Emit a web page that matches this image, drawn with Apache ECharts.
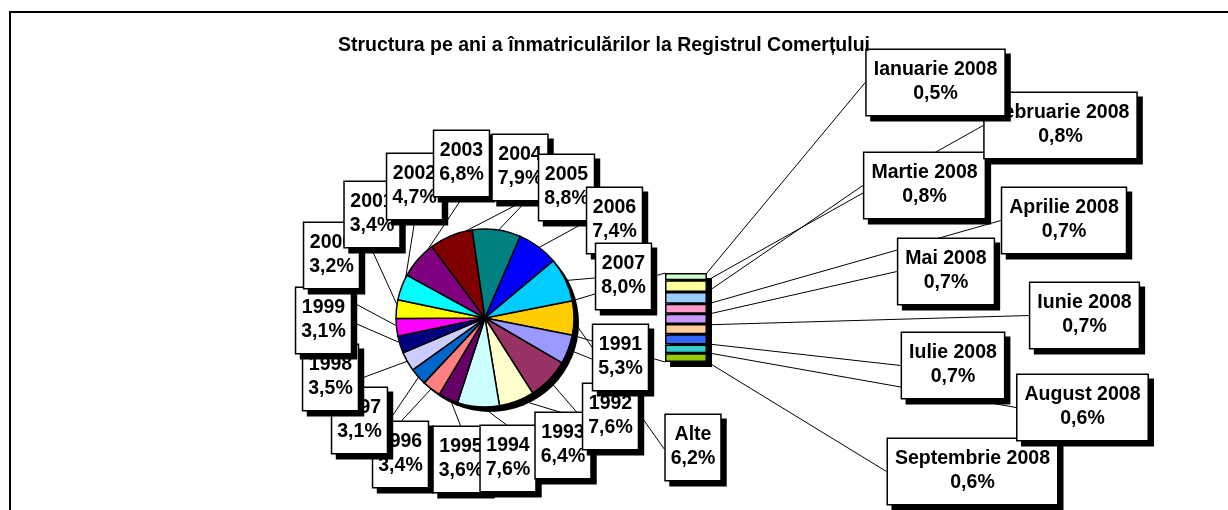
<!DOCTYPE html>
<html>
<head>
<meta charset="utf-8">
<script src="https://cdn.jsdelivr.net/npm/echarts@6/dist/echarts.min.js"></script>
<style>
html,body{margin:0;padding:0;background:#fff;}
#c{width:1228px;height:510px;}
</style>
</head>
<body>
<div id="c"></div>
<script>
// ---- DATA ----
const titleText = 'Structura pe ani a înmatriculărilor la Registrul Comerțului';
const pieNames = ['Alte','1991','1992','1993','1994','1995','1996','1997','1998','1999','2000','2001','2002','2003','2004','2005','2006','2007'];
const pieValues = [6.2,5.3,7.6,6.4,7.6,3.6,3.4,3.1,3.5,3.1,3.2,3.4,4.7,6.8,7.9,8.8,7.4,8.0];
const pieColors = ['#FFCC00','#9999FF','#993366','#FFFFCC','#CCFFFF','#660066','#FF8080','#0066CC','#CCCCFF','#000080','#FF00FF','#FFFF00','#00FFFF','#800080','#800000','#008080','#0000FF','#00CCFF'];
const monthNames = ['Ianuarie 2008','Februarie 2008','Martie 2008','Aprilie 2008','Mai 2008','Iunie 2008','Iulie 2008','August 2008','Septembrie 2008'];
const monthValues = [0.5,0.8,0.8,0.7,0.7,0.7,0.7,0.6,0.6];
const monthColors = ['#CCFFCC','#FFFF99','#99CCFF','#FF99CC','#CC99FF','#FFCC99','#3366FF','#33CCCC','#99CC00'];

// ---- LAYOUT (label box centre-x, top-y) ----
const pieLabelPos = [[693,415],[620.5,325],[610.5,384],[563,413],[508,426],[461,427],[400.5,422],[359.5,388],[330.5,345],[323.5,288],[331.5,223],[372,182],[414.5,154],[461.5,131],[520,135],[566.5,155],[614.5,188],[623.5,244]];
const pieLabelSide = {0:3};               // forced leader-line side (0 top,1 right,2 bottom,3 left)
const pieLabelsOnTop = [1,2,3,4,5];       // labels stacked in reverse order (drawn later)
const monthLabelPos = [[935.5,50],[1060.5,93],[924.5,153],[1064,188],[946,239],[1084.5,283],[953,333],[1082.5,375],[972.5,439]];
const PIE = {cx:485, cy:318, r:89, sdx:5, sdy:5, lineR:0.97};
const BAR = {left:665, top:273, width:42, height:89, sdx:5, sdy:5};

const FONT = '"Liberation Sans", Arial, Helvetica, sans-serif';
const fmt = v => v.toFixed(1).replace('.', ',') + '%';
const boxStyle = {
  color:'#000', fontFamily:FONT, fontWeight:'bold', fontSize:19.5, lineHeight:24,
  backgroundColor:'#fff', borderColor:'#000', borderWidth:1.5,
  shadowColor:'#000', shadowBlur:0, shadowOffsetX:5, shadowOffsetY:5,
  textBorderWidth:0
};

const startAngle = pieValues[0] / 100 * 360 / 2;
const pieTotal = pieValues.reduce((a,b)=>a+b,0);
const monthTotal = monthValues.reduce((a,b)=>a+b,0);
const N = pieValues.length;

// mid angle (deg, counter-clockwise from 3 o'clock) of each slice
const midAngles = [];
{
  let cum = 0;
  pieValues.forEach(v => {
    midAngles.push(startAngle - (cum + v / 2) / pieTotal * 360);
    cum += v;
  });
}

function layoutFor(i, p) {
  const q = pieLabelPos[i];
  const w = p.labelRect.width, h = p.labelRect.height;
  const a = midAngles[i] * Math.PI / 180;
  const sx = PIE.cx + PIE.lineR * PIE.r * Math.cos(a);
  const sy = PIE.cy - PIE.lineR * PIE.r * Math.sin(a);
  const left = q[0] - w / 2, top = q[1];
  const cands = [
    [q[0], top], [left + w, top + h / 2], [q[0], top + h], [left, top + h / 2]
  ];
  let best;
  if (pieLabelSide[i] != null) best = cands[pieLabelSide[i]];
  else {
    let bd = Infinity;
    cands.forEach(c => {
      const d = (c[0]-sx)*(c[0]-sx) + (c[1]-sy)*(c[1]-sy);
      if (d < bd) { bd = d; best = c; }
    });
  }
  return {
    x:q[0], y:q[1], align:'center', verticalAlign:'top',
    labelLinePoints:[[sx, sy], best, best]
  };
}

const pieLabel = Object.assign({show:true, position:'outside', formatter: p => p.name + '\n' + fmt(p.value), padding:[8,5,9,5]}, boxStyle);
const pieLine = {show:true, length:4, length2:0, smooth:false, lineStyle:{color:'#000', width:1}};

const series = [];
// pie shadow
series.push({
  type:'pie', silent:true, z:1, center:[PIE.cx+PIE.sdx, PIE.cy+PIE.sdy], radius:PIE.r,
  data:[{value:1, name:''}], itemStyle:{color:'#000'},
  label:{show:false}, labelLine:{show:false}, emphasis:{disabled:true}
});
// main pie
series.push({
  type:'pie', z:2, center:[PIE.cx, PIE.cy], radius:PIE.r, startAngle:startAngle, clockwise:true,
  avoidLabelOverlap:false,
  data: pieNames.map((n,i)=>({
    name:n, value:pieValues[i], itemStyle:{color:pieColors[i]},
    label:{show: pieLabelsOnTop.indexOf(i) < 0}, labelLine:{show: pieLabelsOnTop.indexOf(i) < 0}
  })),
  itemStyle:{borderColor:'#000', borderWidth:1.5},
  label: pieLabel,
  labelLine: pieLine,
  labelLayout: p => layoutFor(p.dataIndex, p),
  emphasis:{disabled:true}
});
// same pie, reversed order (identical geometry), only carries the labels drawn in reverse stacking order
series.push({
  type:'pie', z:2, silent:true, center:[PIE.cx, PIE.cy], radius:PIE.r, startAngle:startAngle, clockwise:false,
  avoidLabelOverlap:false,
  data: pieNames.map((n,i)=>({
    name:n, value:pieValues[i],
    label:{show: pieLabelsOnTop.indexOf(i) >= 0}, labelLine:{show: pieLabelsOnTop.indexOf(i) >= 0}
  })).reverse(),
  itemStyle:{color:'rgba(0,0,0,0)', borderWidth:0},
  label: pieLabel,
  labelLine: pieLine,
  labelLayout: p => layoutFor(N - 1 - p.dataIndex, p),
  emphasis:{disabled:true}
});
// bar shadow
series.push({
  type:'bar', silent:true, z:1, xAxisIndex:1, yAxisIndex:1, data:[monthTotal], barWidth:'100%',
  itemStyle:{color:'#000'}, emphasis:{disabled:true}
});
// stacked month bars (bottom first)
for (let i = monthValues.length - 1; i >= 0; i--) {
  series.push({
    type:'bar', stack:'m', z:2, xAxisIndex:0, yAxisIndex:0, data:[monthValues[i]], barWidth:'100%',
    itemStyle:{color:monthColors[i], borderColor:'#000', borderWidth:1.5},
    label: Object.assign({show:true, position:'right', formatter: () => monthNames[i] + '\n' + fmt(monthValues[i]), padding:[8,7,9,7]}, boxStyle),
    labelLine:{show:true, length2:0, lineStyle:{color:'#000', width:1}},
    labelLayout:{x:monthLabelPos[i][0], y:monthLabelPos[i][1], align:'center', verticalAlign:'top'},
    emphasis:{disabled:true}
  });
}

// series lines pie -> bar (derived from layout + data)
const th = startAngle * Math.PI / 180;
const px = PIE.cx + PIE.r * Math.cos(th);
const pyTop = PIE.cy - PIE.r * Math.sin(th);
const pyBot = PIE.cy + PIE.r * Math.sin(th);

const option = {
  animation:false,
  backgroundColor:'#fff',
  title:{
    text:titleText, left:338, top:36, padding:0,
    textStyle:{fontFamily:FONT, fontWeight:'bold', fontSize:19.5, color:'#000'}
  },
  grid:[
    {left:BAR.left, top:BAR.top, width:BAR.width, height:BAR.height},
    {left:BAR.left+BAR.sdx, top:BAR.top+BAR.sdy, width:BAR.width, height:BAR.height}
  ],
  xAxis:[
    {type:'category', data:['2008'], show:false, gridIndex:0},
    {type:'category', data:['2008'], show:false, gridIndex:1}
  ],
  yAxis:[
    {type:'value', min:0, max:monthTotal, show:false, gridIndex:0},
    {type:'value', min:0, max:monthTotal, show:false, gridIndex:1}
  ],
  graphic:[
    {type:'rect', silent:true, z:0, shape:{x:10, y:12, width:1240, height:520}, style:{fill:'none', stroke:'#000', lineWidth:2}},
    {type:'line', silent:true, z:0, shape:{x1:px, y1:pyTop, x2:BAR.left, y2:BAR.top}, style:{stroke:'#000', lineWidth:1}},
    {type:'line', silent:true, z:0, shape:{x1:px, y1:pyBot, x2:BAR.left, y2:BAR.top+BAR.height}, style:{stroke:'#000', lineWidth:1}}
  ],
  series:series
};

const chart = echarts.init(document.getElementById('c'), null, {renderer:'canvas'});
chart.setOption(option);
</script>
</body>
</html>
